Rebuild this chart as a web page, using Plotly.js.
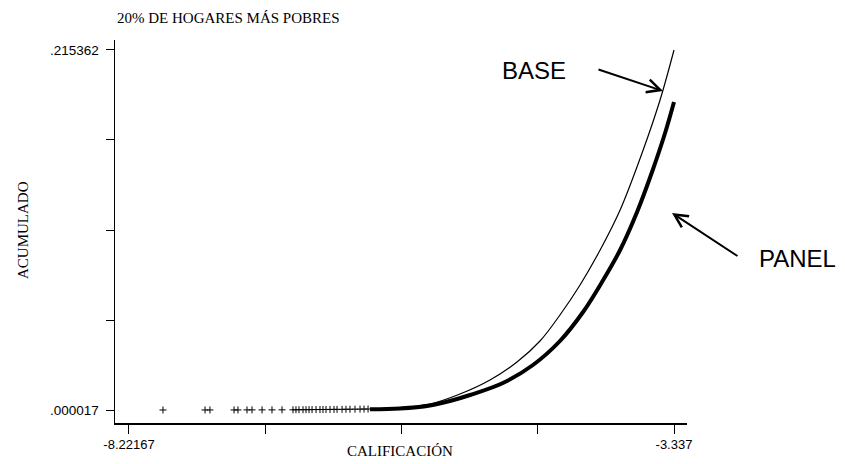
<!DOCTYPE html>
<html>
<head>
<meta charset="utf-8">
<script src="https://cdn.plot.ly/plotly-3.0.1.min.js"></script>
<style>html,body{margin:0;padding:0;background:#fff;}#chart{width:845px;height:464px;}</style>
</head>
<body>
<div id="chart"></div>
<script>
// Sparse left tail of observations (both series coincide here)
const tailX = [-7.917,-7.540,-7.496,-7.280,-7.245,-7.164,-7.119,-7.029,-6.940,-6.850,-6.752,-6.725,-6.698,-6.662,-6.635,-6.608,-6.581,-6.545,-6.510,-6.483,-6.456,-6.420,-6.384,-6.357,-6.312,-6.277,-6.241,-6.196,-6.151,-6.115,-6.079];
const tailY = [0.00002,0.00003,0.00004,0.00005,0.00006,0.00007,0.00008,0.00009,0.0001,0.00012,0.00014,0.00016,0.00018,0.0002,0.00022,0.00024,0.00026,0.00028,0.0003,0.00032,0.00034,0.00036,0.00038,0.0004,0.00042,0.00045,0.00048,0.00051,0.00054,0.00057,0.0006];

// BASE (thin line)
const baseX = [-6.062,-5.793,-5.524,-5.255,-4.986,-4.744,-4.538,-4.359,-4.179,-3.999,-3.820,-3.623,-3.462,-3.337];
const baseY = [0.000615,0.001513,0.003606,0.009588,0.017963,0.028730,0.041293,0.056846,0.074792,0.095729,0.119657,0.153752,0.185460,0.215362];

// PANEL (thick line)
const panelX = [-6.062,-5.793,-5.524,-5.345,-5.165,-4.870,-4.601,-4.359,-4.152,-3.982,-3.820,-3.668,-3.534,-3.417,-3.337];
const panelY = [0.000436,0.000914,0.002709,0.005401,0.008990,0.016168,0.026936,0.041293,0.058640,0.076586,0.095729,0.118460,0.142388,0.165718,0.184262];

// Axis ticks (only the extremes are labelled)
const xTickVals = [-8.22167,-7.00050,-5.77934,-4.55817,-3.337];
const xTickText = ['-8.22167','','','','-3.337'];
const yTickVals = [0.000017,0.053853,0.107690,0.161526,0.215362];
const yTickText = ['.000017','','','','.215362'];

const serif = 'Liberation Serif, Times New Roman, serif';
const sans = 'Liberation Sans, Arial, sans-serif';

const traces = [
  {x: tailX, y: tailY, type: 'scatter', mode: 'markers', hoverinfo: 'skip',
   marker: {symbol: 'cross-thin', size: 5, color: '#000', line: {color: '#000', width: 1}}},
  {x: baseX, y: baseY, type: 'scatter', mode: 'lines', name: 'BASE',
   line: {color: '#000', width: 1.2, shape: 'spline', smoothing: 1}},
  {x: panelX, y: panelY, type: 'scatter', mode: 'lines', name: 'PANEL',
   line: {color: '#000', width: 4, shape: 'spline', smoothing: 1}}
];

const layout = {
  width: 845, height: 464,
  margin: {l: 115, r: 158, t: 40, b: 41},
  paper_bgcolor: '#fff', plot_bgcolor: '#fff',
  showlegend: false,
  font: {family: sans, color: '#000', size: 13},
  xaxis: {
    range: [-8.347, -3.2205], showgrid: false, zeroline: false,
    showline: true, linecolor: '#000', linewidth: 1.5,
    ticks: 'outside', ticklen: 9, tickcolor: '#000', tickwidth: 1,
    tickmode: 'array', tickvals: xTickVals, ticktext: xTickText,
    tickfont: {family: sans, size: 13, color: '#000'}
  },
  yaxis: {
    range: [-0.00776, 0.22134], showgrid: false, zeroline: false,
    showline: true, linecolor: '#000', linewidth: 1.5,
    ticks: 'outside', ticklen: 8, tickcolor: '#000', tickwidth: 1,
    tickmode: 'array', tickvals: yTickVals, ticktext: yTickText,
    ticklabelstandoff: 4,
    tickfont: {family: sans, size: 13.5, color: '#000'}
  },
  annotations: [
    {xref: 'paper', yref: 'paper', x: 0, y: 1, yshift: 22, xanchor: 'left', yanchor: 'middle',
     text: '20% DE HOGARES MÁS POBRES', showarrow: false, font: {family: serif, size: 15, color: '#000'}},
    {xref: 'paper', yref: 'paper', x: -0.1608, y: 0.504, textangle: -90, xanchor: 'center', yanchor: 'middle',
     text: 'ACUMULADO', showarrow: false, font: {family: serif, size: 15, color: '#000'}},
    {xref: 'paper', yref: 'paper', x: 0.498, y: -0.073, xanchor: 'center', yanchor: 'middle',
     text: 'CALIFICACIÓN', showarrow: false, font: {family: serif, size: 15, color: '#000'}},
    {xref: 'paper', yref: 'paper', x: (534-115)/572, y: (423-71)/383, xanchor: 'center', yanchor: 'middle',
     text: 'BASE', showarrow: false, font: {family: sans, size: 24, color: '#000'}},
    {xref: 'paper', yref: 'paper', x: (798-115)/572, y: (423-258)/383, xanchor: 'center', yanchor: 'middle',
     text: 'PANEL', showarrow: false, font: {family: sans, size: 24, color: '#000'}},
    {xref: 'x', yref: 'y', x: -3.4355, y: 0.190839, ax: -66, ay: -22, text: '',
     showarrow: true, arrowhead: 5, arrowsize: 1.3, arrowwidth: 2, arrowcolor: '#000'},
    {xref: 'x', yref: 'y', x: -3.3550, y: 0.117862, ax: 67, ay: 44, text: '',
     showarrow: true, arrowhead: 5, arrowsize: 1.3, arrowwidth: 2, arrowcolor: '#000'}
  ]
};

Plotly.newPlot('chart', traces, layout, {displayModeBar: false, staticPlot: true});
</script>
</body>
</html>
